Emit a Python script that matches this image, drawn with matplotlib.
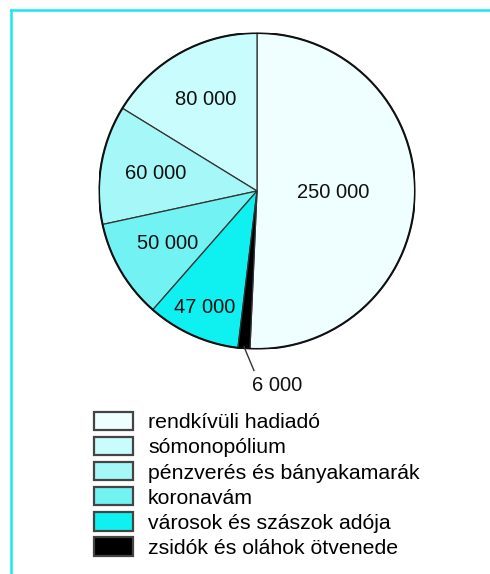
import matplotlib
matplotlib.use("Agg")
import matplotlib.pyplot as plt
from matplotlib.patches import Patch
from matplotlib.lines import Line2D
import numpy as np

plt.rcParams['font.family'] = ['Liberation Sans', 'DejaVu Sans']

categories = ["rendkívüli hadiadó", "sómonopólium", "pénzverés és bányakamarák",
              "koronavám", "városok és szászok adója", "zsidók és oláhok ötvenede"]
values = [250000, 80000, 60000, 50000, 47000, 6000]
value_labels = ["250 000", "80 000", "60 000", "50 000", "47 000", "6 000"]
colors = ["#effefe", "#c9fcfc", "#a6f8f8", "#72f2f2", "#0ff0f0", "#000000"]
label_dist = [0.48, 0.66, 0.65, 0.655, 0.81, 1.19]

fig = plt.figure(figsize=(4.9, 5.74), dpi=100)
fig.patch.set_facecolor("white")

# cyan frame lines (top and left)
fig.add_artist(Line2D([10.5/490, 1], [1 - 9.5/574] * 2, color="#18e8f0", lw=1.8))
fig.add_artist(Line2D([10.5/490] * 2, [0, 1 - 9.5/574], color="#18e8f0", lw=1.8))

ax = fig.add_axes([99/490, (574-349)/574, 316/490, 316/574])
total = sum(values)
start = 90 - 360 * values[0] / total
wedges, _ = ax.pie(values, colors=colors, startangle=start, counterclock=True,
                   wedgeprops=dict(edgecolor="#333333", linewidth=0.9))
ax.set_xlim(-1, 1)
ax.set_ylim(-1, 1)
ax.set_aspect("equal")
circ = plt.Circle((0, 0), 1, fill=False, edgecolor="#111111", linewidth=1.5)
ax.add_patch(circ)

for w, lab, d in zip(wedges, value_labels, label_dist):
    ang = np.deg2rad((w.theta1 + w.theta2) / 2)
    if d > 1:
        ax.plot([0.99 * np.cos(ang), 1.14 * np.cos(ang) + 0.075],
                [0.99 * np.sin(ang), 1.14 * np.sin(ang)], color="#333333", lw=1, clip_on=False)
        ax.text(d * np.cos(ang) + 0.225, d * np.sin(ang) - 0.045, lab, ha="center", va="center",
                fontsize=14.5, color="#111111", clip_on=False)
    else:
        ax.text(d * np.cos(ang), d * np.sin(ang), lab, ha="center", va="center",
                fontsize=14.5, color="#111111")

handles = [Patch(facecolor=c, edgecolor="#444444", linewidth=1.6) for c in colors]
fig.legend(handles, categories, loc="upper left", bbox_to_anchor=(94/490, 1 - 412/574),
           frameon=False, fontsize=15.3, handlelength=1.84, handleheight=0.94,
           handletextpad=0.7, labelspacing=0.22, borderaxespad=0, borderpad=0)

fig.savefig("out.png", dpi=100, facecolor="white")
